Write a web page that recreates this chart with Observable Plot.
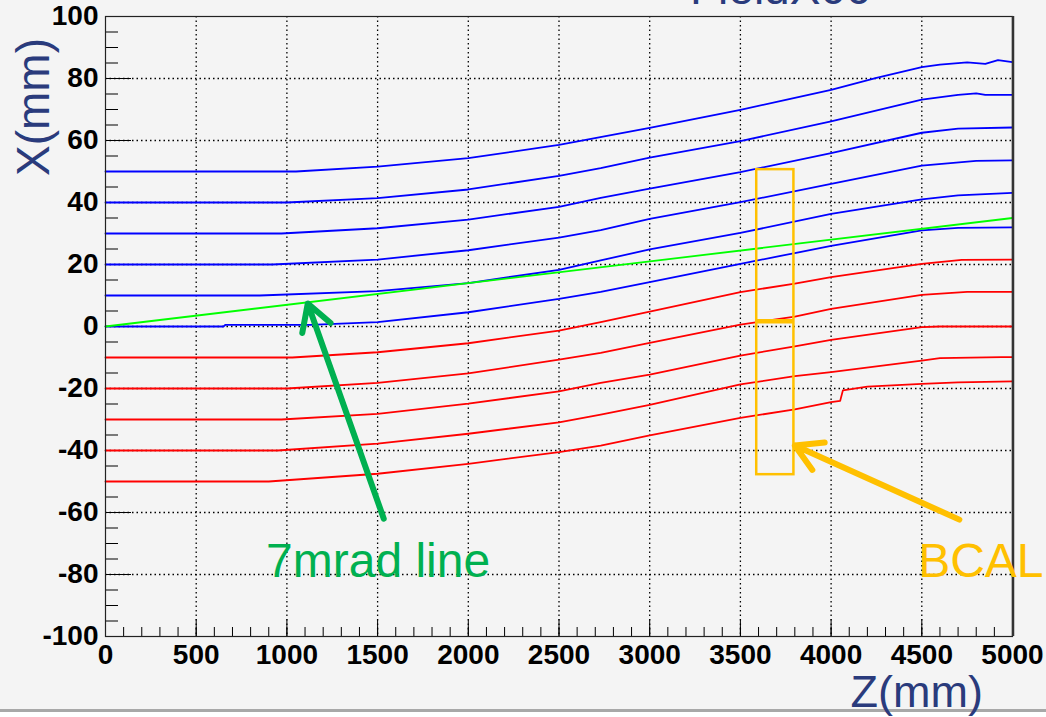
<!DOCTYPE html>
<html><head><meta charset="utf-8">
<script src="https://cdn.jsdelivr.net/npm/d3@7"></script>
<script src="https://cdn.jsdelivr.net/npm/@observablehq/plot@0.6"></script>
<style>
html,body{margin:0;padding:0;background:#f4f4f4;width:1046px;height:717px;overflow:hidden;}
#chart{position:relative;width:1046px;height:717px;}
#bar{position:absolute;left:0;top:709px;width:1046px;height:3px;background:#a8a8a8;}
#below{position:absolute;left:0;top:712px;width:1046px;height:5px;background:#ffffff;}
#chart svg{position:absolute;left:0;top:0;}
</style></head>
<body><div id="chart"><div id="bar"></div><div id="below"></div></div>
<script>
// ---- trajectories (Z in mm, X in mm) ----
const b50z = [0,1050,1500,2000,2500,3000,3500,3750,4000,4250,4500,4600,4750,4850,4920,5000];
const b50x = [50,50,51.6,54.3,58.6,64.1,69.9,73.1,76.3,80.2,83.7,84.5,85.2,84.7,85.9,85.3];
const b40z = [0,1000,1500,2000,2500,2730,3000,3500,4000,4500,4700,4800,4850,5000];
const b40x = [40,40,41.4,44.2,48.6,51.1,54.5,59.8,66.2,73.2,74.7,75.2,74.7,74.7];
const b30z = [0,970,1500,2000,2500,2730,3000,3500,4000,4500,4700,5000];
const b30x = [30,30,31.7,34.5,38.6,41.5,44.5,49.8,55.9,62.5,63.8,64.2];
const b20z = [0,920,1500,2000,2500,2730,3000,3500,4000,4500,4800,5000];
const b20x = [20,20,21.6,24.6,28.7,31.1,34.7,40.1,46.0,51.9,53.4,53.6];
const b10z = [0,850,1500,2000,2500,2730,3000,3500,4000,4500,4700,5000];
const b10x = [10,10,11.4,14.0,18.3,21.3,24.9,30.2,36.3,41.0,42.3,43.1];
const b00z = [0,650,660,1130,1500,2000,2500,2730,3000,3500,3800,4000,4500,4700,5000];
const b00x = [0,0,0.5,0.5,1.4,4.6,8.9,11.2,14.3,20.2,23.7,26.0,31.0,31.8,32.0];
const r10z = [0,1030,1500,2000,2500,2730,3000,3500,3800,4000,4500,4720,5000];
const r10x = [-10,-10,-8.3,-5.4,-1.3,1.4,4.8,11.1,13.8,15.9,20.2,21.5,21.6];
const r20z = [0,1000,1500,2000,2500,2730,3000,3500,3800,4000,4500,4750,5000];
const r20x = [-20,-20,-18.2,-15.1,-10.7,-8.5,-5.3,0.6,3.2,5.7,10.2,11.2,11.2];
const r30z = [0,970,1500,2000,2500,2730,3000,3500,3800,4000,4500,4600,5000];
const r30x = [-30,-30,-28.2,-24.9,-20.9,-18.2,-15.5,-9.4,-6.4,-4.3,-0.2,0,0];
const r40z = [0,950,1500,2000,2500,2730,3000,3500,3800,4000,4500,4600,4940,5000];
const r40x = [-40,-40,-37.8,-34.6,-30.9,-28.4,-25.3,-18.7,-16.0,-14.7,-11.0,-10.2,-9.9,-9.9];
const r50z = [0,900,1500,2000,2500,2730,3000,3500,3800,4000,4050,4065,4200,4500,4700,5000];
const r50x = [-50,-50,-47.5,-44.3,-40.5,-38.4,-35.1,-29.5,-26.7,-24.4,-24.0,-20.6,-19.4,-18.5,-18.0,-17.7];
const lineZ = [0,5000];          // 7 mrad line
const lineX = [0,35];

// ---- BCAL box ----
const bcalZ = [3590,3795];
const bcalX = [-47.8,50.6];
const bcalMidX = 1.7;

// ---- annotations ----
const greenArrow = {z1:1534,x1:-62.0,z2:1115,x2:7.4};
const orangeArrow = {z1:4707,x1:-62.3,z2:3800,x2:-38.4};
const labels = [
  {text:"7mrad line", z:885, x:-76.0, color:"#00b050"},
  {text:"BCAL", z:4480, x:-76.0, color:"#ffc000"}
];

// ---- ticks ----
const xMajor = d3.range(0,5001,500);
const xMinor = d3.range(0,5001,100);
const yMajor = d3.range(-100,101,20);
const yMinor = d3.range(-100,101,5);
const xGrid = d3.range(500,4501,500);
const yGrid = d3.range(-80,81,20);

const toRows = (zs, xs, id) => zs.map((z,i) => ({z, X: xs[i], id}));
const blue = [].concat(toRows(b50z,b50x,"b50"),toRows(b40z,b40x,"b40"),toRows(b30z,b30x,"b30"),
                       toRows(b20z,b20x,"b20"),toRows(b10z,b10x,"b10"),toRows(b00z,b00x,"b00"));
const red = [].concat(toRows(r10z,r10x,"r10"),toRows(r20z,r20x,"r20"),toRows(r30z,r30x,"r30"),
                      toRows(r40z,r40x,"r40"),toRows(r50z,r50x,"r50"));
const green = toRows(lineZ,lineX,"g");

const tickFont = {fontSize: 28, fontWeight: "bold", fill: "black"};
const fmt = (d) => String(d);

const svg = Plot.plot({
  width: 1046, height: 717,
  marginLeft: 105, marginRight: 34, marginTop: 16, marginBottom: 81,
  x: {domain: [0,5000]},
  y: {domain: [-100,100]},
  style: {background: "transparent", fontFamily: "'Liberation Sans', Arial, sans-serif", overflow: "visible"},
  marks: [
    Plot.gridX(xGrid, {stroke: "black", strokeOpacity: 1, strokeWidth: 1.3, strokeDasharray: "1.5,3"}),
    Plot.gridY(yGrid, {stroke: "black", strokeOpacity: 1, strokeWidth: 1.3, strokeDasharray: "1.5,3"}),
    Plot.axisX(xMinor, {anchor: "bottom", tickSize: -9, tickFormat: () => "", label: null, stroke: "black"}),
    Plot.axisX(xMajor, {anchor: "bottom", tickSize: -17, tickFormat: () => "", label: null, stroke: "black"}),
    Plot.axisX(xMajor, {anchor: "bottom", tickSize: 0, tickPadding: 8, tickFormat: fmt, label: null, ...tickFont}),
    Plot.axisY(yMinor, {anchor: "left", tickSize: -13, tickFormat: () => "", label: null, stroke: "black"}),
    Plot.axisY(yMajor, {anchor: "left", tickSize: -26, tickFormat: () => "", label: null, stroke: "black"}),
    Plot.axisY(yMajor, {anchor: "left", tickSize: 0, tickPadding: 7, tickFormat: fmt, label: null, ...tickFont}),
    Plot.line(red, {x: "z", y: "X", z: "id", stroke: "#ff0000", strokeWidth: 1.8}),
    Plot.line(blue, {x: "z", y: "X", z: "id", stroke: "#0000ff", strokeWidth: 1.8}),
    Plot.line(green, {x: "z", y: "X", stroke: "#00ff00", strokeWidth: 1.8}),
    Plot.rect([0], {x1: bcalZ[0], x2: bcalZ[1], y1: bcalX[0], y2: bcalX[1], fill: "none", stroke: "#ffc000", strokeWidth: 2.5}),
    Plot.link([0], {x1: bcalZ[0], x2: bcalZ[1], y1: bcalMidX, y2: bcalMidX, stroke: "#ffc000", strokeWidth: 4.5}),
    Plot.frame({stroke: "#222", strokeWidth: 1.2}),
    Plot.ruleX([5000], {stroke: "#333", strokeWidth: 2.5, dx: 0.5}),
    Plot.arrow([greenArrow], {x1: "z1", y1: "x1", x2: "z2", y2: "x2", stroke: "#00b050", strokeWidth: 6, headLength: 7.5, headAngle: 60}),
    Plot.arrow([orangeArrow], {x1: "z1", y1: "x1", x2: "z2", y2: "x2", stroke: "#ffc000", strokeWidth: 6, headLength: 7.5, headAngle: 60}),
    Plot.text(labels, {x: "z", y: "x", text: "text", fill: "color", fontSize: 48, textAnchor: "start", lineAnchor: "middle"})
  ]
});
const s = d3.select(svg);
const navy = "#2a3b7c";
s.append("text").attr("x", 983).attr("y", 707).attr("text-anchor", "end")
  .attr("font-size", 45).attr("fill", navy).text("Z(mm)");
s.append("text").attr("transform", "translate(49,38) rotate(-90)").attr("text-anchor", "end")
  .attr("font-size", 46).attr("fill", navy).text("X(mm)");
s.append("text").attr("x", 690).attr("y", 4).attr("text-anchor", "start")
  .attr("font-size", 46).attr("fill", navy).text("FieldX00");
document.getElementById("chart").appendChild(svg);
</script>
</body></html>
